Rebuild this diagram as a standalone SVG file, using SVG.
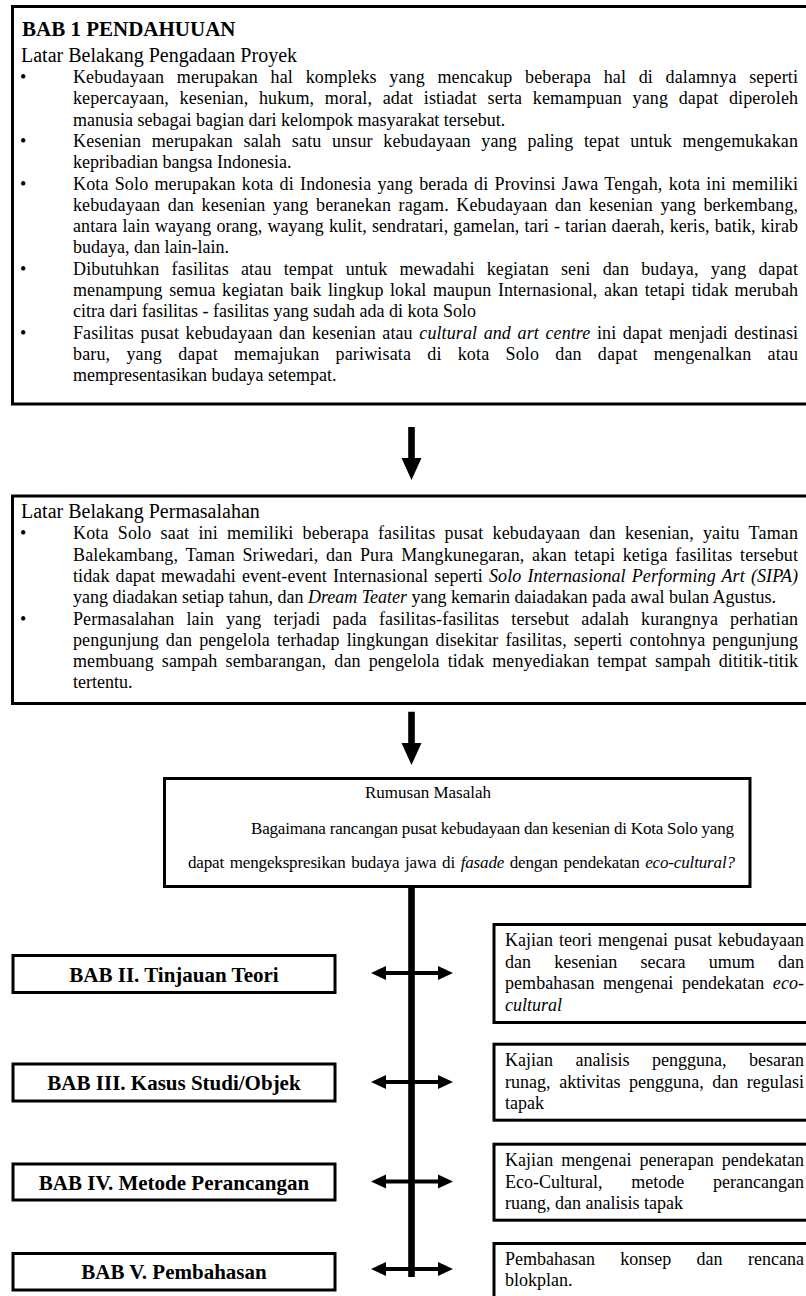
<svg xmlns="http://www.w3.org/2000/svg" width="806" height="1296" viewBox="0 0 806 1296">
<style>
text{font-family:"Liberation Serif","Times New Roman","DejaVu Serif",serif;fill:#000}
.t{font-size:18px}
.st{font-size:20px}
.h{font-size:21px;font-weight:bold}
.lbl{font-size:21px;font-weight:bold}
.rm{font-size:17px}
.i{font-style:italic}
.box{fill:#fff;stroke:#000;stroke-width:3}
.ar{fill:#000}
</style>
<rect width="806" height="1296" fill="#fff"/>

<g id="bab1">
<rect class="box" x="12.5" y="6.5" width="800" height="397.5"/>
<text class="h" x="22" y="35.7">BAB 1 PENDAHUUAN</text>
<text class="st" x="21" y="61.5">Latar Belakang Pengadaan Proyek</text>
<text class="t" x="20" y="83">•</text>
<text class="t" x="20" y="146.9">•</text>
<text class="t" x="20" y="189.5">•</text>
<text class="t" x="20" y="274.7">•</text>
<text class="t" x="20" y="338.6">•</text>
<text class="t" x="73" y="83" textLength="725" word-spacing="8">Kebudayaan merupakan hal kompleks yang mencakup beberapa hal di dalamnya seperti</text>
<text class="t" x="73" y="104.3" textLength="725" word-spacing="6">kepercayaan, kesenian, hukum, moral, adat istiadat serta kemampuan yang dapat diperoleh</text>
<text class="t" x="73" y="125.6">manusia sebagai bagian dari kelompok masyarakat tersebut.</text>
<text class="t" x="73" y="146.9" textLength="725" word-spacing="6">Kesenian merupakan salah satu unsur kebudayaan yang paling tepat untuk mengemukakan</text>
<text class="t" x="73" y="168.2">kepribadian bangsa Indonesia.</text>
<text class="t" x="73" y="189.5" textLength="725" word-spacing="1.5">Kota Solo merupakan kota di Indonesia yang berada di Provinsi Jawa Tengah, kota ini memiliki</text>
<text class="t" x="73" y="210.8" textLength="725" word-spacing="3">kebudayaan dan kesenian yang beranekan ragam. Kebudayaan dan kesenian yang berkembang,</text>
<text class="t" x="73" y="232.1" textLength="725" word-spacing="0.5">antara lain wayang orang, wayang kulit, sendratari, gamelan, tari - tarian daerah, keris, batik, kirab</text>
<text class="t" x="73" y="253.4">budaya, dan lain-lain.</text>
<text class="t" x="73" y="274.7" textLength="725" word-spacing="7.5">Dibutuhkan fasilitas atau tempat untuk mewadahi kegiatan seni dan budaya, yang dapat</text>
<text class="t" x="73" y="296" textLength="725" word-spacing="2">menampung semua kegiatan baik lingkup lokal maupun Internasional, akan tetapi tidak merubah</text>
<text class="t" x="73" y="317.3">citra dari fasilitas - fasilitas yang sudah ada di kota Solo</text>
<text class="t" x="73" y="338.6" textLength="725" word-spacing="2">Fasilitas pusat kebudayaan dan kesenian atau <tspan class="i">cultural and art centre</tspan> ini dapat menjadi destinasi</text>
<text class="t" x="73" y="359.9" textLength="725" word-spacing="11.5">baru, yang dapat memajukan pariwisata di kota Solo dan dapat mengenalkan atau</text>
<text class="t" x="73" y="381.2">mempresentasikan budaya setempat.</text>
</g>

<g id="permasalahan">
<rect class="box" x="12.5" y="496" width="800" height="207.5"/>
<text class="st" x="21" y="517.5">Latar Belakang Permasalahan</text>
<text class="t" x="20" y="539.3">•</text>
<text class="t" x="20" y="624.5">•</text>
<text class="t" x="73" y="539.3" textLength="725" word-spacing="4.5">Kota Solo saat ini memiliki beberapa fasilitas pusat kebudayaan dan kesenian, yaitu Taman</text>
<text class="t" x="73" y="560.6" textLength="725" word-spacing="3">Balekambang, Taman Sriwedari, dan Pura Mangkunegaran, akan tetapi ketiga fasilitas tersebut</text>
<text class="t" x="73" y="581.9" textLength="725" word-spacing="1.5">tidak dapat mewadahi event-event Internasional seperti <tspan class="i">Solo Internasional Performing Art (SIPA)</tspan></text>
<text class="t" x="73" y="603.2">yang diadakan setiap tahun, dan <tspan class="i">Dream Teater</tspan> yang kemarin daiadakan pada awal bulan Agustus.</text>
<text class="t" x="73" y="624.5" textLength="725" word-spacing="7.5">Permasalahan lain yang terjadi pada fasilitas-fasilitas tersebut adalah kurangnya perhatian</text>
<text class="t" x="73" y="645.8" textLength="725" word-spacing="2.5">pengunjung dan pengelola terhadap lingkungan disekitar fasilitas, seperti contohnya pengunjung</text>
<text class="t" x="73" y="667.1" textLength="725" word-spacing="3.5">membuang sampah sembarangan, dan pengelola tidak menyediakan tempat sampah dititik-titik</text>
<text class="t" x="73" y="688.4">tertentu.</text>
</g>

<g id="rumusan">
<rect class="box" x="164.5" y="778.5" width="585.5" height="108"/>
<text class="rm" x="428" y="798" text-anchor="middle">Rumusan Masalah</text>
<text class="rm" x="251" y="834" textLength="483">Bagaimana rancangan pusat kebudayaan dan kesenian di Kota Solo yang</text>
<text class="rm" x="188" y="868" textLength="547" word-spacing="1.5">dapat mengekspresikan budaya jawa di <tspan class="i">fasade</tspan> dengan pendekatan <tspan class="i">eco-cultural?</tspan></text>
</g>

<g id="bab2">
<rect class="box" x="13" y="955.5" width="322" height="37"/>
<text class="lbl" x="174" y="981.5" text-anchor="middle">BAB II. Tinjauan Teori</text>
</g>
<g id="bab3">
<rect class="box" x="13" y="1064" width="322" height="37"/>
<text class="lbl" x="174" y="1090" text-anchor="middle">BAB III. Kasus Studi/Objek</text>
</g>
<g id="bab4">
<rect class="box" x="13" y="1164" width="322" height="36"/>
<text class="lbl" x="174" y="1189.5" text-anchor="middle">BAB IV. Metode Perancangan</text>
</g>
<g id="bab5">
<rect class="box" x="13" y="1253.5" width="322" height="36.5"/>
<text class="lbl" x="174" y="1279" text-anchor="middle">BAB V. Pembahasan</text>
</g>

<g id="kajian2">
<rect class="box" x="494" y="924.5" width="320" height="98"/>
<text class="t" x="505" y="946" textLength="299" word-spacing="1.5">Kajian teori mengenai pusat kebudayaan</text>
<text class="t" y="967.5"><tspan x="505">dan</tspan><tspan x="554.3">kesenian</tspan><tspan x="640.5">secara</tspan><tspan x="708.8">umum</tspan><tspan x="778">dan</tspan></text>
<text class="t" x="505" y="989" textLength="299" word-spacing="4">pembahasan mengenai pendekatan <tspan class="i">eco-</tspan></text>
<text class="t i" x="505" y="1010.5">cultural</text>
</g>
<g id="kajian3">
<rect class="box" x="494" y="1044.2" width="320" height="76"/>
<text class="t" y="1066"><tspan x="505">Kajian</tspan><tspan x="575.5">analisis</tspan><tspan x="652">pengguna,</tspan><tspan x="749">besaran</tspan></text>
<text class="t" x="505" y="1087.5" textLength="299" word-spacing="4">runag, aktivitas pengguna, dan regulasi</text>
<text class="t" x="505" y="1109">tapak</text>
</g>
<g id="kajian4">
<rect class="box" x="494" y="1144.2" width="320" height="76"/>
<text class="t" x="505" y="1166" textLength="299" word-spacing="3.5">Kajian mengenai penerapan pendekatan</text>
<text class="t" y="1187.5"><tspan x="505">Eco-Cultural,</tspan><tspan x="631.3">metode</tspan><tspan x="713">perancangan</tspan></text>
<text class="t" x="505" y="1209">ruang, dan analisis tapak</text>
</g>
<g id="kajian5">
<rect class="box" x="494" y="1243.5" width="320" height="70"/>
<text class="t" y="1264.5"><tspan x="505">Pembahasan</tspan><tspan x="620.3">konsep</tspan><tspan x="696.6">dan</tspan><tspan x="748">rencana</tspan></text>
<text class="t" x="505" y="1286">blokplan.</text>
</g>

<g id="connectors">
<polygon class="ar" points="408.2,427 414.8,427 414.8,458 421.5,458 411.5,480 401.5,458 408.2,458"/>
<polygon class="ar" points="408.2,711.7 414.8,711.7 414.8,743 421.5,743 411.5,765 401.5,743 408.2,743"/>
<rect class="ar" x="408.2" y="887" width="6.6" height="390"/>
<polygon class="ar" points="371,973 386,966 386,971 438,971 438,966 453,973 438,980 438,975 386,975 386,980"/>
<polygon class="ar" points="371,1082 386,1075 386,1080 438,1080 438,1075 453,1082 438,1089 438,1084 386,1084 386,1089"/>
<polygon class="ar" points="371,1181.5 386,1174.5 386,1179.5 438,1179.5 438,1174.5 453,1181.5 438,1188.5 438,1183.5 386,1183.5 386,1188.5"/>
<polygon class="ar" points="371,1269 386,1262 386,1267 438,1267 438,1262 453,1269 438,1276 438,1271 386,1271 386,1276"/>
</g>
</svg>
